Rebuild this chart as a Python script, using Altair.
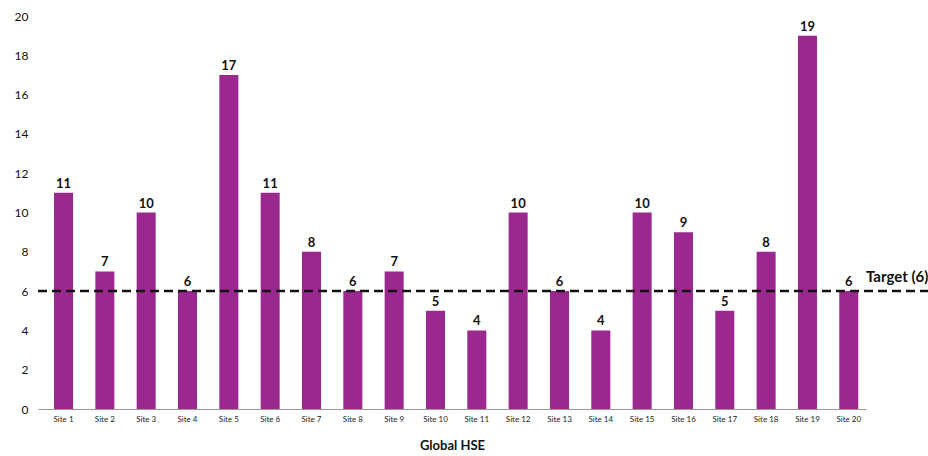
import altair as alt
import pandas as pd

sites = [f"Site {i}" for i in range(1, 21)]
values = [11, 7, 10, 6, 17, 11, 8, 6, 7, 5, 4, 10, 6, 4, 10, 9, 5, 8, 19, 6]
target = 6
target_label = "Target (6)"

df = pd.DataFrame({"site": sites, "value": values})
tdf = pd.DataFrame({"target": [target], "label": [target_label]})

W, H = 828, 393
FONT = "Lato"

x_axis = alt.Axis(labelAngle=0, labelFontSize=8, labelColor="#222",
                  ticks=False, domainColor="#a09890", labelPadding=6,
                  titleFontSize=13, titleFontWeight="bold", titlePadding=16,
                  titleColor="#111", labelFont=FONT, titleFont=FONT)
x_scale = alt.Scale(paddingInner=0.54, paddingOuter=0.287, align=0.675)
y_axis = alt.Axis(values=list(range(0, 21, 2)), grid=False, domain=False,
                  ticks=False, labelFontSize=12, labelColor="#111",
                  labelPadding=10, labelFont=FONT, labelOverlap=False)
y_scale = alt.Scale(domain=[0, 20], nice=False)

x = alt.X("site:N", sort=sites, title="Global HSE", scale=x_scale, axis=x_axis)

bars = alt.Chart(df).mark_bar(color="#9a288f").encode(
    x=x, y=alt.Y("value:Q", title=None, scale=y_scale, axis=y_axis))
labels = alt.Chart(df).mark_text(dy=-9, fontSize=13, fontWeight="bold",
                                 font=FONT, color="#111").encode(
    x=x, y=alt.Y("value:Q", title=None, scale=y_scale, axis=y_axis),
    text="value:Q")

# dashed target line runs past the end of the axis to the page edge
rule = alt.Chart(tdf).mark_rule(color="#111", strokeWidth=2.5,
                                strokeDash=[9, 5], clip=False).encode(
    y=alt.Y("target:Q", title=None, scale=y_scale, axis=y_axis),
    x=alt.value(0), x2=alt.value(W + 70))
tlabel = alt.Chart(tdf).mark_text(align="left", dy=-14, dx=0, fontSize=15,
                                  fontWeight="bold", font=FONT, color="#111").encode(
    y=alt.Y("target:Q", title=None, scale=y_scale, axis=y_axis),
    x=alt.value(W), text="label:N")

chart = alt.layer(bars, labels, rule, tlabel).properties(
    width=W, height=H,
    background="white",
    autosize=alt.AutoSizeParams(type="none"),
    padding={"left": 38, "top": 16, "right": 62, "bottom": 47},
).configure_view(strokeWidth=0, stroke="transparent")

chart.save("out.html", embed_options={"renderer": "svg", "actions": False})
